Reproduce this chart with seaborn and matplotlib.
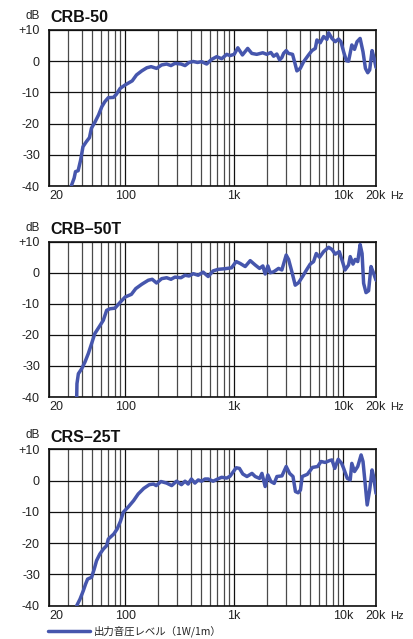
import matplotlib
matplotlib.use('Agg')
import matplotlib.pyplot as plt
import matplotlib.ticker as mticker
import numpy as np
import pandas as pd
import seaborn as sns

sns.set_style('white')
plt.rcParams['font.family'] = ['Liberation Sans', 'DejaVu Sans']

# frequency response (Hz, dB)
crb50_freq = [32, 34, 35, 37, 39, 41, 44, 47, 49, 53, 57, 61, 65, 70, 78, 83, 90, 100,
              116, 127, 142, 158, 173, 194, 216, 240, 263, 286, 325, 354, 385, 421, 461,
              503, 559, 622, 691, 768, 854, 916, 1000, 1080, 1190, 1330, 1450, 1610, 1830,
              1990, 2170, 2300, 2460, 2610, 2740, 2840, 3000, 3150, 3430, 3580, 3760, 4040,
              4330, 4810, 5170, 5550, 5740, 6160, 6610, 7090, 7350, 7890, 8460, 9070, 9530,
              10100, 10700, 11200, 12000, 12700, 13400, 14300, 15200, 16000, 16800, 17500,
              18400, 19200, 20000]
crb50_db = [-40, -37.5, -35.4, -35.1, -31.7, -27.4, -25.8, -24.5, -21.5, -19.4, -17.2,
            -14.6, -13, -11.7, -11.6, -10.6, -8.7, -7.6, -6.3, -4.4, -3.1, -2.1, -1.75,
            -2.3, -1.2, -0.9, -1.4, -0.7, -0.9, -1.4, -0.4, -0.1, -0.4, -0.15, -0.9, 0.6,
            1.45, 0.8, 2.2, 1.8, 2.2, 4.3, 2.0, 4.1, 2.5, 2.2, 2.7, 2.2, 2.8, 1.6, 2.3, 0.4,
            1.2, 2.5, 3.4, 2.5, 2.2, -0.2, -3.1, -2.3, -0.2, 2.0, 3.4, 4.1, 6.8, 5.9, 7.9,
            7.0, 9.1, 7.3, 6.25, 7.1, 6.25, 3.0, 0.15, 0.0, 5.2, 3.8, 6.25, 7.3, 3.0, -2.3,
            -3.7, -2.8, 3.4, 1.0, -2.0]

crb50t_freq = [35.9, 36.1, 37.2, 39.9, 42.8, 45.9, 49.2, 52.6, 57.5, 63, 67.6, 72.4, 80.5,
               90.5, 100, 114, 125, 142, 163, 177, 194, 216, 240, 263, 286, 325, 354, 385,
               421, 467, 519, 577, 641, 712, 823, 946, 1043, 1135, 1262, 1403, 1559, 1708,
               1832, 1924, 2037, 2140, 2297, 2553, 2737, 3000, 3154, 3383, 3630, 3896, 4267,
               4644, 4987, 5350, 5663, 6070, 6610, 7350, 7890, 8460, 9210, 9750, 10400,
               11200, 11600, 12300, 12900, 13600, 14300, 14900, 15400, 16200, 17100, 18000,
               18800, 20000]
crb50t_db = [-40, -35.7, -32.5, -30.9, -28.7, -26, -22.8, -19.6, -17.5, -15.3, -12.1, -11.6,
             -11.4, -9.4, -7.8, -6.95, -5.1, -3.7, -2.4, -2.1, -3.3, -1.9, -1.6, -2.1, -1.4,
             -1.6, -0.8, -1.05, -0.3, -0.8, 0.2, -1.2, 0.6, 1.1, 1.3, 1.6, 3.6, 3.0, 2.0,
             3.9, 2.5, 1.4, 2.2, -0.4, 2.2, 0.0, 0.3, 1.4, 0.9, 5.7, 4.3, 0.3, -4.0, -3.2,
             -1.05, 1.1, 2.8, 3.6, 6.2, 5.0, 6.8, 8.2, 7.5, 6.0, 6.8, 4.1, 0.9, 2.5, 5.2,
             2.8, 4.3, 3.6, 9.1, 6.2, -3.4, -6.4, -5.8, 2.0, 0.3, -2.4]

crs25t_freq = [35.9, 38.5, 41.3, 43.3, 45.2, 49.2, 52, 54.6, 58.5, 63, 67.6, 70, 78.5, 84.3,
               90.5, 96.2, 107.5, 119.5, 131.5, 148, 166.5, 182, 192.5, 213, 240, 267, 296,
               328, 354, 378, 405, 436, 468, 502, 539, 577, 641, 706, 767, 854, 916, 1043,
               1117, 1200, 1309, 1456, 1559, 1708, 1797, 1924, 2037, 2170, 2328, 2465, 2743,
               3000, 3224, 3464, 3647, 3860, 4056, 4205, 4690, 5226, 5827, 6264, 6830, 7500,
               7890, 8376, 9000, 9680, 10100, 10900, 11600, 12000, 12700, 13600, 14600,
               15200, 16000, 16600, 17500, 18400, 19000, 20000]
crs25t_db = [-40, -37.9, -35.2, -33.1, -31.5, -30.9, -28.3, -25.6, -23.5, -21.9, -20.8,
             -18.7, -17.1, -15.5, -13, -10.1, -8.3, -6.4, -4.3, -2.5, -1.3, -1.1, -1.6,
             -0.3, -0.8, -1.6, -0.2, -1.3, -0.2, -1.1, 0.5, -0.8, 0.2, -0.2, 0.5, 0.5, -0.2,
             0.5, 1.05, 0.8, 1.4, 4.1, 3.9, 2.1, 1.3, 2.3, 1.3, 0.7, 2.3, -1.9, 1.8, -0.3,
             -0.9, 1.3, 1.5, 4.5, 2.3, 1.3, -3.5, -3.9, -3.0, 1.3, 2.0, 4.2, 4.5, 6.1, 5.8,
             6.4, 6.6, 3.9, 6.8, 5.5, 3.9, 0.7, 0.2, 5.5, 2.9, 4.5, 8.2, 6.1, -1.9, -7.8,
             -3.0, 3.4, 1.3, -4.1]

titles = ['CRB-50', 'CRB–50T', 'CRS–25T']
series = [(crb50_freq, crb50_db), (crb50t_freq, crb50t_db), (crs25t_freq, crs25t_db)]
yticks = [-40, -30, -20, -10, 0, 10]
ytick_labels = ['-40', '-30', '-20', '-10', '0', '+10']
xticks = [20, 100, 1000, 10000, 20000]
xtick_labels = ['20', '100', '1k', '10k', '20k']
legend_label = '出力音圧レベル（1W/1m）'

line_color = '#4656ad'

W, H = 413, 639
fig = plt.figure(figsize=(W / 100, H / 100), dpi=100)
panels = [(30, 186), (241.7, 397), (449.3, 605.7)]

for (top, bot), title, (fq, db) in zip(panels, titles, series):
    ax = fig.add_axes([49 / W, 1 - bot / H, 327 / W, (bot - top) / H])
    df = pd.DataFrame({'freq': fq, 'db': db})
    sns.lineplot(data=df, x='freq', y='db', ax=ax, color=line_color, linewidth=2.5,
                 estimator=None, zorder=5)
    ax.set_xscale('log')
    ax.set_xlim(20, 20000)
    ax.set_ylim(-40, 10)
    ax.set_xlabel('')
    ax.set_ylabel('')
    ax.set_xticks(xticks)
    ax.set_xticklabels(xtick_labels)
    ax.xaxis.set_minor_locator(mticker.LogLocator(base=10, subs=np.arange(2, 10)))
    ax.xaxis.set_minor_formatter(mticker.NullFormatter())
    ax.set_yticks(yticks)
    ax.set_yticklabels(ytick_labels)
    ax.grid(which='major', color='#111111', linewidth=0.9)
    ax.grid(which='minor', axis='x', color='#4a4a4a', linewidth=0.9)
    ax.tick_params(which='both', length=0, labelsize=9, colors='#222222')
    ax.tick_params(axis='y', pad=6.5)
    ax.tick_params(axis='x', pad=3)
    ax.get_xticklabels()[0].set_ha('left')
    for s in ax.spines.values():
        s.set_color('#111111')
        s.set_linewidth(1.2)
    ax.annotate(title, xy=(0, 1), xycoords='axes fraction', xytext=(1, 5.5),
                textcoords='offset points', ha='left', va='baseline',
                fontsize=11.5, fontweight='bold', color='#111111')
    ax.annotate('dB', xy=(0, 1), xycoords='axes fraction', xytext=(-6.5, 8),
                textcoords='offset points', ha='right', va='baseline',
                fontsize=8.5, color='#222222')
    ax.annotate('Hz', xy=(1, 0), xycoords='axes fraction', xytext=(10.5, -3.5),
                textcoords='offset points', ha='left', va='top',
                fontsize=8, color='#222222')

# legend line and label
fig.add_artist(plt.Line2D([48 / W, 90 / W], [1 - 631 / H, 1 - 631 / H],
                          color=line_color, linewidth=2.5))
fig.text(94 / W, 1 - 631 / H, legend_label, ha='left', va='center', fontsize=7.5,
         family=['Noto Sans CJK JP', 'DejaVu Sans'], color='#222222')

fig.savefig('out.png', dpi=100)
